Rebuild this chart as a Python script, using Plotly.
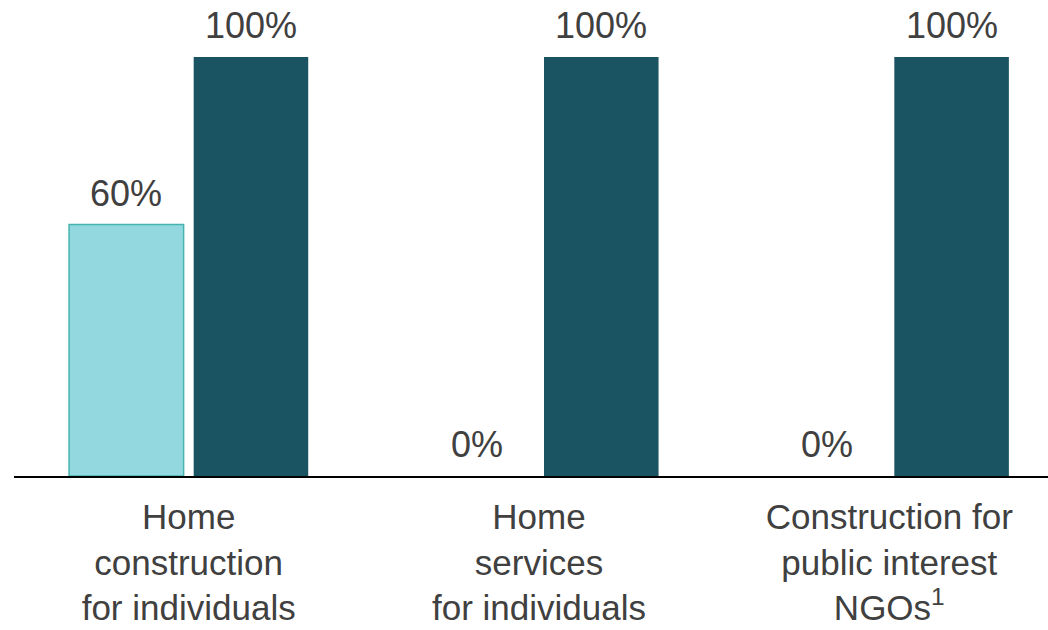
import plotly.graph_objects as go

categories = [
    "Home<br>construction<br>for individuals",
    "Home<br>services<br>for individuals",
    "Construction for<br>public interest<br>NGOs<sup>1</sup>",
]
series_light = [60, 0, 0]
series_dark = [100, 100, 100]

LIGHT = "#93D7DF"
LIGHT_EDGE = "#45B3AE"
DARK = "#1A5361"
TEXT = "#404040"
FONT = "Liberation Sans, Arial, sans-serif"

BAR_W = 0.327
OFF_LIGHT = -0.3414
OFF_DARK = 0.0143

x_idx = list(range(len(categories)))

fig = go.Figure()
fig.add_trace(go.Bar(
    x=x_idx, y=series_light, width=BAR_W, offset=OFF_LIGHT,
    marker=dict(
        color=LIGHT,
        line=dict(color=LIGHT_EDGE, width=[1.5 if v > 0 else 0 for v in series_light]),
    ),
    hoverinfo="skip",
))
fig.add_trace(go.Bar(
    x=x_idx, y=series_dark, width=BAR_W, offset=OFF_DARK,
    marker=dict(color=DARK, line=dict(width=0)),
    hoverinfo="skip",
))

# value labels above each bar
for vals, off in ((series_light, OFF_LIGHT), (series_dark, OFF_DARK)):
    for i, v in enumerate(vals):
        fig.add_annotation(
            x=i + off + BAR_W / 2, y=v, text=f"{v}%",
            showarrow=False, yanchor="bottom", yshift=9,
            font=dict(family=FONT, size=36, color=TEXT),
        )

fig.update_layout(
    width=1048, height=630,
    margin=dict(l=14, r=0, t=0, b=154),
    paper_bgcolor="white", plot_bgcolor="white",
    barmode="overlay",
    showlegend=False,
    font=dict(family=FONT, size=35, color=TEXT),
    xaxis=dict(
        tickmode="array", tickvals=x_idx, ticktext=categories,
        range=[-0.4986, 2.453],
        automargin=False,
        showline=True, linecolor="black", linewidth=2,
        showgrid=False, zeroline=False, ticks="",
        tickfont=dict(family=FONT, size=35, color=TEXT),
        ticklabelstandoff=9,
    ),
    yaxis=dict(
        range=[0, 113.6], visible=False, showgrid=False, zeroline=False,
        automargin=False,
    ),
)

fig.write_html("out.html")
